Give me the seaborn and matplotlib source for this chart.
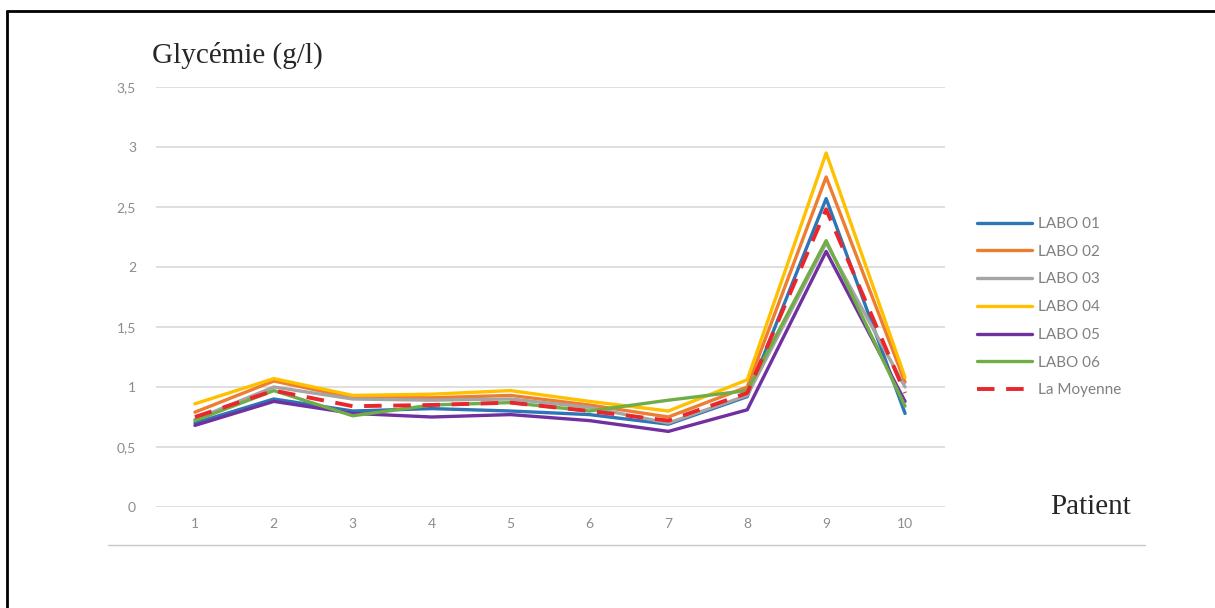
import numpy as np
import pandas as pd
import matplotlib
matplotlib.use("Agg")
import matplotlib.pyplot as plt
from matplotlib.lines import Line2D
import seaborn as sns

# =========================
# DATA
# =========================

patients = [1, 2, 3, 4, 5, 6, 7, 8, 9, 10]

labo01 = [0.70, 0.90, 0.80, 0.82, 0.80, 0.77, 0.69, 0.92, 2.57, 0.78]
labo02 = [0.79, 1.05, 0.91, 0.91, 0.93, 0.85, 0.75, 1.00, 2.75, 1.04]
labo03 = [0.73, 1.00, 0.90, 0.89, 0.90, 0.83, 0.70, 0.93, 2.20, 1.00]
labo04 = [0.86, 1.07, 0.93, 0.94, 0.97, 0.88, 0.80, 1.06, 2.95, 1.08]
labo05 = [0.68, 0.88, 0.78, 0.75, 0.77, 0.72, 0.63, 0.81, 2.13, 0.88]
labo06 = [0.72, 0.97, 0.76, 0.85, 0.87, 0.80, 0.89, 0.97, 2.22, 0.84]
moyenne = [0.75, 0.97, 0.84, 0.85, 0.87, 0.80, 0.72, 0.95, 2.48, 0.95]

series_names = ["LABO 01", "LABO 02", "LABO 03", "LABO 04",
                "LABO 05", "LABO 06", "La Moyenne"]
series_values = [labo01, labo02, labo03, labo04, labo05, labo06, moyenne]
colors = ["#2E75B6", "#ED7D31", "#A5A5A5", "#FFC000",
          "#7030A0", "#70AD47", "#E8262B"]

y_ticks = [0, 0.5, 1, 1.5, 2, 2.5, 3, 3.5]
y_tick_labels = ["0", "0,5", "1", "1,5", "2", "2,5", "3", "3,5"]

df = pd.DataFrame({
    "Patient": patients * len(series_names),
    "Glycemie": np.concatenate(series_values),
    "Serie": np.repeat(series_names, len(patients)),
})

# =========================
# PLOT
# =========================

sns.set_style("white")

fig = plt.figure(figsize=(12.15, 6.08), dpi=100)
ax = fig.add_axes([155.5 / 1215, 101 / 608, 789 / 1215, 420 / 608])

for name, col in zip(series_names, colors):
    sub = df[df["Serie"] == name]
    sns.lineplot(
        data=sub,
        x="Patient",
        y="Glycemie",
        color=col,
        linewidth=2.4 if name != "La Moyenne" else 2.8,
        linestyle="--" if name == "La Moyenne" else "-",
        dashes=False,
        label=name,
        ax=ax,
    )

for line in ax.get_lines():
    if line.get_linestyle() == "--":
        line.set_dashes([4.5, 3])

ax.set_xlim(0.5, 10.5)
ax.set_ylim(0, 3.5)
ax.set_yticks(y_ticks)
ax.set_yticklabels(y_tick_labels)
ax.set_xticks(patients)
ax.set_xticklabels([str(p) for p in patients])
ax.tick_params(axis="both", length=0, labelsize=10, labelcolor="#8C8C8C")
ax.tick_params(axis="y", pad=14)
ax.tick_params(axis="x", pad=8)
ax.grid(axis="y", color="#D9D9D9", linewidth=1.2)
ax.set_axisbelow(True)
for s in ax.spines.values():
    s.set_visible(False)
ax.set_xlabel("")
ax.set_ylabel("")

for lab in ax.get_xticklabels() + ax.get_yticklabels():
    lab.set_fontfamily("Lato")

leg = ax.legend(
    loc="upper left",
    bbox_to_anchor=(977 / 1215, 1 - 217 / 608),
    bbox_transform=fig.transFigure,
    frameon=False,
    borderpad=0,
    borderaxespad=0,
    handlelength=3.6,
    handletextpad=0.4,
    labelspacing=0.9,
    prop={"family": "Lato", "size": 11},
)
for t in leg.get_texts():
    t.set_color("#808080")

fig.text(152 / 1215, 1 - 55 / 608, "Glycémie (g/l)", family="Liberation Serif",
         fontsize=21, va="center", ha="left")
fig.text(1050 / 1215, 1 - 507 / 608, "Patient", family="Liberation Serif",
         fontsize=21, va="center", ha="left")

# frame lines and separator
fig.add_artist(Line2D([7 / 1215, 1], [1 - 11 / 608, 1 - 11 / 608],
                      transform=fig.transFigure, color="black", linewidth=2))
fig.add_artist(Line2D([7 / 1215, 7 / 1215], [0, 1 - 11 / 608],
                      transform=fig.transFigure, color="black", linewidth=2))
fig.add_artist(Line2D([108 / 1215, 1145 / 1215], [1 - 545 / 608, 1 - 545 / 608],
                      transform=fig.transFigure, color="#C8C8C8", linewidth=1))

fig.savefig("out.png", dpi=100)
